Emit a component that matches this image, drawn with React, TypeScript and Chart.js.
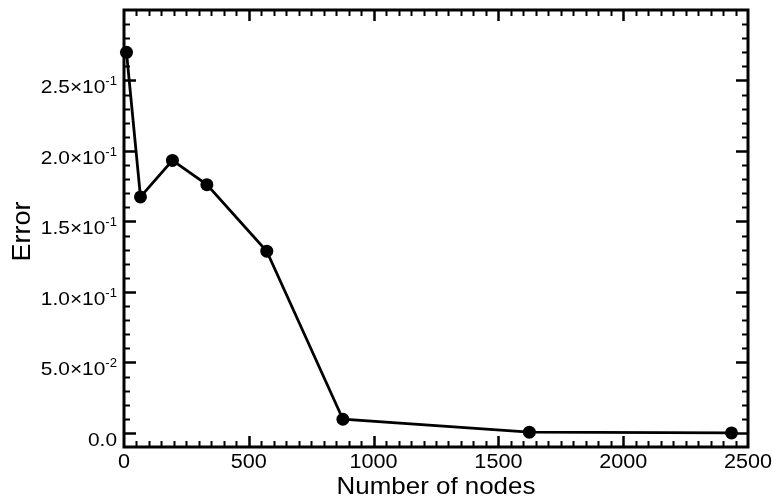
import React, { useEffect, useRef } from "react";
import { Chart, registerables } from "chart.js";

Chart.register(...registerables);

// ---- data ----
const nodeCounts = [10, 66, 194, 332, 572, 877, 1624, 2434];
const errorValues = [0.27, 0.1674, 0.1933, 0.1761, 0.1289, 0.0097, 0.0005, 0.0];

// ---- axes ----
const xMin = 0;
const xMax = 2500;
const yMin = -0.01;
const yMax = 0.3;
const xTickValues = [0, 500, 1000, 1500, 2000, 2500];
const xTickLabels = ["0", "500", "1000", "1500", "2000", "2500"];
const yTickValues = [0, 0.05, 0.1, 0.15, 0.2, 0.25];
const yTickMantissas = ["0.0", "5.0×10", "1.0×10", "1.5×10", "2.0×10", "2.5×10"];
const yTickExponents = ["", "-2", "-1", "-1", "-1", "-1"];
const xMinorStep = 50;
const yMinorStep = 0.01;
const xTitle = "Number of nodes";
const yTitle = "Error";

const FONT = '"Liberation Sans", Arial, Helvetica, sans-serif';

function drawText(
  ctx: CanvasRenderingContext2D,
  text: string,
  x: number,
  y: number,
  size: number,
  align: CanvasTextAlign,
  sx: number
) {
  ctx.save();
  ctx.translate(x, y);
  ctx.scale(sx, 1);
  ctx.font = `${size}px ${FONT}`;
  ctx.textAlign = align;
  ctx.textBaseline = "alphabetic";
  ctx.fillStyle = "#000";
  ctx.fillText(text, 0, 0);
  ctx.restore();
}

function textWidth(ctx: CanvasRenderingContext2D, text: string, size: number, sx: number) {
  ctx.save();
  ctx.font = `${size}px ${FONT}`;
  const w = ctx.measureText(text).width * sx;
  ctx.restore();
  return w;
}

const framePlugin = {
  id: "tecplotFrame",
  afterDraw(chart: any) {
    const ctx: CanvasRenderingContext2D = chart.ctx;
    const { left, right, top, bottom } = chart.chartArea;
    const xs = chart.scales.x;
    const ys = chart.scales.y;
    ctx.save();
    ctx.strokeStyle = "#000";
    ctx.lineCap = "butt";

    // x ticks (bottom and top, inward)
    const nx = Math.round((xMax - xMin) / xMinorStep);
    for (let i = 0; i <= nx; i++) {
      const v = xMin + i * xMinorStep;
      const px = Math.round(xs.getPixelForValue(v)) + 0.5;
      if (px <= left + 1 || px >= right - 1) continue;
      const major = xTickValues.some((t) => Math.abs(t - v) < 1e-9);
      const len = major ? 11 : 6;
      ctx.lineWidth = major ? 2.5 : 2;
      ctx.beginPath();
      ctx.moveTo(px, bottom);
      ctx.lineTo(px, bottom - len);
      ctx.moveTo(px, top);
      ctx.lineTo(px, top + len);
      ctx.stroke();
    }
    // y ticks (left and right, inward)
    const ny = Math.round((yMax - yMin) / yMinorStep);
    for (let i = 0; i <= ny; i++) {
      const v = yMin + i * yMinorStep;
      const py = Math.round(ys.getPixelForValue(v)) + 0.5;
      if (py <= top + 1 || py >= bottom - 1) continue;
      const major = yTickValues.some((t) => Math.abs(t - v) < 1e-9);
      const len = major ? 12 : 6;
      ctx.lineWidth = major ? 2.5 : 2;
      ctx.beginPath();
      ctx.moveTo(left, py);
      ctx.lineTo(left + len, py);
      ctx.moveTo(right, py);
      ctx.lineTo(right - len, py);
      ctx.stroke();
    }
    // frame
    ctx.lineWidth = 3;
    ctx.strokeRect(left, top, right - left, bottom - top);
    ctx.restore();

    // x tick labels
    xTickValues.forEach((v, i) => {
      const px = xs.getPixelForValue(v);
      drawText(ctx, xTickLabels[i], px, bottom + 21, 20, "center", 1.08);
    });
    // y tick labels with superscript exponent
    const rightEdge = left - 7;
    yTickValues.forEach((v, i) => {
      const py = ys.getPixelForValue(v);
      const exp = yTickExponents[i];
      let x = rightEdge;
      if (exp) {
        drawText(ctx, exp, x, py + 5, 12.5, "right", 1.05);
        x -= textWidth(ctx, exp, 12.5, 1.05);
      }
      drawText(ctx, yTickMantissas[i], x, py + 13, 19, "right", 1.1);
    });
    // axis titles
    drawText(ctx, xTitle, (left + right) / 2, bottom + 47, 24, "center", 1.08);
    ctx.save();
    ctx.translate(30, (top + bottom) / 2 + 3);
    ctx.rotate(-Math.PI / 2);
    drawText(ctx, yTitle, 0, 0, 25, "center", 1.08);
    ctx.restore();
  },
};

export default function App() {
  const canvasRef = useRef<HTMLCanvasElement | null>(null);

  useEffect(() => {
    const canvas = canvasRef.current;
    if (!canvas) return;
    const chart = new Chart(canvas, {
      type: "line",
      data: {
        datasets: [
          {
            data: nodeCounts.map((x, i) => ({ x, y: errorValues[i] })),
            borderColor: "#000",
            backgroundColor: "#000",
            borderWidth: 2.8,
            pointRadius: 6.5,
            pointBackgroundColor: "#000",
            pointBorderColor: "#000",
            pointBorderWidth: 0,
            tension: 0,
            clip: false as any,
          },
        ],
      },
      options: {
        animation: false,
        responsive: false,
        devicePixelRatio: 1,
        layout: { padding: { left: 124, top: 10, right: 25, bottom: 52 } },
        plugins: { legend: { display: false }, tooltip: { enabled: false } },
        scales: {
          x: { type: "linear", min: xMin, max: xMax, display: false },
          y: { type: "linear", min: yMin, max: yMax, display: false },
        },
      },
      plugins: [framePlugin],
    });
    return () => chart.destroy();
  }, []);

  return (
    <div style={{ position: "fixed", left: 0, top: 0, width: 773, height: 499, background: "#fff" }}>
      <canvas ref={canvasRef} width={773} height={499} style={{ display: "block" }} />
    </div>
  );
}
